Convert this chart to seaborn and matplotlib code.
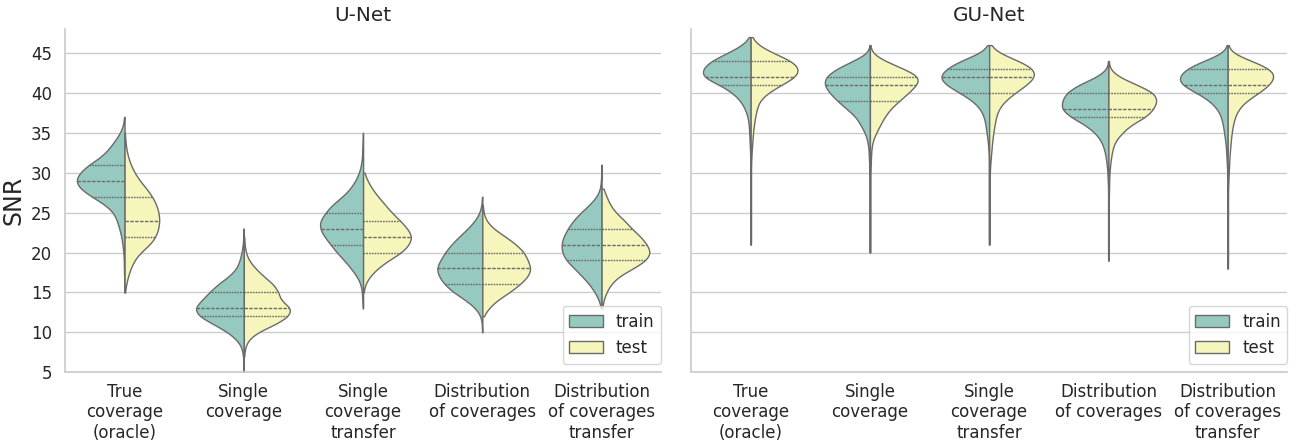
import numpy as np
import pandas as pd
import seaborn as sns
import matplotlib.pyplot as plt

categories = ["True\ncoverage\n(oracle)", "Single\ncoverage", "Single\ncoverage\ntransfer",
              "Distribution\nof coverages", "Distribution\nof coverages\ntransfer"]
models = ["U-Net", "GU-Net"]
splits = ["train", "test"]

# Each violin half: (lowest SNR level, relative weight for each 1 dB step up)
unet_true_train = (15, [1, 1, 1, 2, 2, 3, 6, 9, 15, 22, 30, 55, 95, 130, 145, 130, 105, 65, 45, 28, 12, 3, 1])
unet_true_test = (15, [1, 4, 10, 18, 28, 45, 80, 97, 103, 108, 104, 98, 85, 68, 45, 30, 18, 10, 5, 2, 1])
unet_single_train = (5, [1, 1, 2, 5, 18, 45, 85, 128, 142, 120, 98, 75, 42, 20, 12, 6, 3, 1, 1])
unet_single_test = (7, [1, 3, 12, 40, 95, 135, 145, 110, 105, 90, 60, 35, 15, 6, 2, 1])
unet_sctrans_train = (13, [1, 2, 3, 6, 17, 37, 55, 80, 97, 117, 132, 132, 112, 95, 60, 38, 22, 12, 5, 3, 2, 1, 1])
unet_sctrans_test = (15, [1, 5, 18, 40, 70, 110, 130, 140, 125, 105, 80, 62, 42, 25, 12, 3])
unet_dist_train = (10, [1, 1, 4, 20, 50, 90, 118, 135, 144, 131, 116, 97, 72, 45, 22, 8, 2, 1])
unet_dist_test = (12, [2, 17, 40, 75, 104, 127, 136, 126, 117, 94, 64, 30, 10, 3, 1])
unet_dtrans_train = (13, [1, 8, 22, 40, 65, 90, 120, 133, 136, 128, 113, 96, 70, 40, 15, 4, 2, 1, 1])
unet_dtrans_test = (13, [2, 5, 14, 27, 50, 95, 135, 150, 137, 118, 90, 70, 42, 25, 15, 5])

gunet_true_train = (21, [1, 1, 1, 1, 1, 1, 1, 1, 1, 1, 1,
                         1, 2, 3, 4, 5, 8, 16, 28, 50, 85, 140, 137, 115, 65, 22, 1])
gunet_true_test = (21, [1, 1, 1, 1, 1, 1, 1, 1, 1, 1, 1,
                        2, 3, 5, 6, 9, 12, 17, 22, 45, 82, 125, 135, 115, 60, 18, 1])
gunet_single_train = (20, [1, 1, 1, 1, 1, 1, 1, 1, 1, 1, 1,
                           2, 3, 4, 7, 14, 28, 40, 68, 95, 118, 135, 132, 100, 50, 3, 1])
gunet_single_test = (20, [1, 1, 1, 1, 1, 1, 1, 1, 1, 1, 1,
                          2, 3, 4, 7, 17, 28, 40, 55, 80, 105, 128, 140, 95, 40, 3, 1])
gunet_sctrans_train = (21, [1, 1, 1, 1, 1, 1, 1, 1, 1, 1, 1,
                            1, 2, 4, 7, 10, 14, 24, 45, 80, 120, 140, 120, 82, 22, 1])
gunet_sctrans_test = (21, [1, 1, 1, 1, 1, 1, 1, 1, 1,
                           2, 3, 5, 7, 9, 12, 16, 20, 27, 45, 75, 110, 137, 135, 90, 25, 1])
gunet_dist_train = (19, [1, 1, 1, 1, 1, 1, 1, 1, 1,
                         1, 2, 3, 5, 8, 13, 22, 40, 70, 115, 143, 140, 128, 92, 35, 3, 1])
gunet_dist_test = (19, [1, 1, 1, 1, 1, 1, 1, 1, 1,
                        2, 2, 3, 5, 8, 12, 20, 40, 65, 110, 132, 143, 135, 85, 30, 3, 1])
gunet_dtrans_train = (18, [1, 1, 1, 1, 1, 1, 1, 1, 1, 1, 1, 1, 1,
                           2, 3, 4, 6, 9, 12, 16, 25, 45, 75, 125, 128, 110, 65, 3, 1])
gunet_dtrans_test = (18, [1, 1, 1, 1, 1, 1, 1, 1, 1, 1, 1,
                          2, 3, 4, 5, 7, 9, 11, 15, 20, 30, 50, 90, 120, 138, 130, 70, 3, 1])

halves = [
    ("U-Net", 0, "train", unet_true_train), ("U-Net", 0, "test", unet_true_test),
    ("U-Net", 1, "train", unet_single_train), ("U-Net", 1, "test", unet_single_test),
    ("U-Net", 2, "train", unet_sctrans_train), ("U-Net", 2, "test", unet_sctrans_test),
    ("U-Net", 3, "train", unet_dist_train), ("U-Net", 3, "test", unet_dist_test),
    ("U-Net", 4, "train", unet_dtrans_train), ("U-Net", 4, "test", unet_dtrans_test),
    ("GU-Net", 0, "train", gunet_true_train), ("GU-Net", 0, "test", gunet_true_test),
    ("GU-Net", 1, "train", gunet_single_train), ("GU-Net", 1, "test", gunet_single_test),
    ("GU-Net", 2, "train", gunet_sctrans_train), ("GU-Net", 2, "test", gunet_sctrans_test),
    ("GU-Net", 3, "train", gunet_dist_train), ("GU-Net", 3, "test", gunet_dist_test),
    ("GU-Net", 4, "train", gunet_dtrans_train), ("GU-Net", 4, "test", gunet_dtrans_test),
]

frames = []
for model, cat, split, (lo, weights) in halves:
    snr = np.repeat(np.arange(lo, lo + len(weights)), weights)
    frames.append(pd.DataFrame({"model": model, "method": categories[cat],
                                "split": split, "SNR": snr.astype(float)}))
df = pd.concat(frames, ignore_index=True)

sns.set_theme(style="whitegrid")

fig, axes = plt.subplots(1, 2, figsize=(12.99, 4.41), dpi=100, sharey=True)
for ax, model, bw in zip(axes, models, [1.0, 0.85]):
    # one call per method, so the two halves of a violin share their scaling
    for i, cat in enumerate(categories):
        sub = df[(df["model"] == model) & (df["method"] == cat)]
        sns.violinplot(data=sub, x="method", y="SNR", hue="split",
                       order=categories, hue_order=splits, split=True, inner="quart",
                       cut=0, density_norm="area", common_norm=True, bw_adjust=bw,
                       linewidth=1, palette="Set3", legend=(i == 0), ax=ax)
    ax.set_title(model, fontsize=14.4)
    ax.set_xlabel("")
    ax.tick_params(axis="both", labelsize=12)
    ax.tick_params(axis="x", pad=1.5)
    sns.move_legend(ax, "lower right", title=None, fontsize=12,
                    bbox_to_anchor=(1.0, 0.025), borderaxespad=0)

axes[0].set_ylabel("SNR", fontsize=17)
axes[1].set_ylabel("")
axes[0].set_ylim(5, 48)
axes[0].set_yticks(range(5, 50, 5))
sns.despine()

fig.subplots_adjust(left=0.050, right=0.991, top=0.934, bottom=0.156, wspace=0.05)
fig.savefig("out.png", dpi=100)
